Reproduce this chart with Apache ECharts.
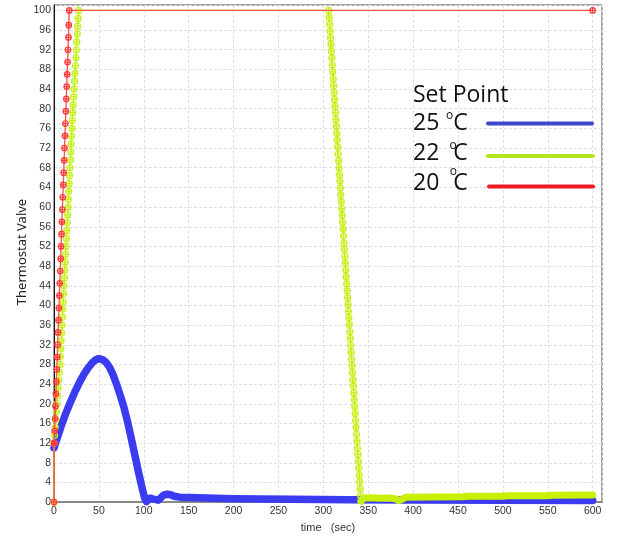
<!DOCTYPE html>
<html>
<head>
<meta charset="utf-8">
<script src="https://cdn.jsdelivr.net/npm/echarts@6/dist/echarts.min.js"></script>
<style>html,body{margin:0;padding:0;background:#fff;}#c{width:624px;height:538px;}</style>
</head>
<body>
<div id="c"></div>
<script>
// ---- data (time in sec, valve value) ----
const xTicks = [0, 50, 100, 150, 200, 250, 300, 350, 400, 450, 500, 550, 600];
const yTickStep = 4;

// Set point 25 °C
const blue25 = [[0,11],[2,12.2],[5,13.8],[9,16],[13,18],[18,20.2],[23,22.3],[28,24.2],[33,25.9],[38,27.3],[43,28.4],[47,29],[50,29.2],[54,29],[58,28.4],[62,27.4],[66,25.8],[70,23.8],[74,21.6],[78,19.2],[82,16.3],[86,13],[90,9.6],[94,6.2],[98,3],[101,0.8],[103,0.1],[105,0.2],[107,0.8],[109,1.0],[111,0.6],[113,0.2],[116,0.4],[119,0.9],[122,1.4],[126,1.6],[130,1.5],[134,1.2],[140,1.0],[160,0.9],[162,0.8],[199,0.7],[201,0.5],[330,0.5],[400,0.45],[500,0.4],[600,0.35]];

// Set point 22 °C
const yellow22Rise = [[0,0],[0,12],[0.67,13.6],[1.33,15.2],[2,16.8],[2.67,18.4],[3.33,20],[4,21.6],[4.67,23.2],[5.33,24.8],[6,26.4],[6.67,28],[7.1,29.6],[7.6,31.2],[8,32.8],[8.4,34.4],[8.9,36],[9.3,37.6],[9.8,39.2],[10.2,40.8],[10.7,42.4],[11.1,44],[11.6,45.6],[12,47.2],[12.4,48.8],[12.9,50.4],[13.3,52],[13.8,53.6],[14.2,55.2],[14.7,56.8],[15.1,58.4],[15.6,60],[16,61.6],[16.4,63.2],[16.9,64.8],[17.3,66.4],[17.8,68],[18.2,69.6],[18.7,71.2],[19.1,72.8],[19.6,74.4],[20,76],[20.4,77.6],[20.9,79.2],[21.4,80.8],[21.9,82.4],[22.4,84],[22.9,85.6],[23.4,87.2],[23.9,88.8],[24.4,90.4],[24.9,92],[25.4,93.6],[25.9,95.2],[26.4,96.8],[26.9,98.4],[27.4,100]];
const yellow22Fall = [[306,100],[306.5,98.6],[307,97.2],[307.5,95.8],[308,94.4],[308.5,93.1],[309,91.7],[309.5,90.3],[310,88.9],[310.5,87.5],[311,86.1],[311.5,84.7],[312,83.3],[312.5,81.9],[313,80.5],[313.5,79.2],[314,77.8],[314.5,76.4],[315,75],[315.5,73.6],[316,72.2],[316.5,70.8],[317,69.4],[317.5,68],[318,66.6],[318.5,65.3],[319,63.9],[319.5,62.5],[320,61.1],[320.5,59.7],[321,58.3],[321.5,56.9],[322,55.5],[322.5,54.1],[323,52.7],[323.5,51.4],[324,50],[324.5,48.6],[325,47.2],[325.5,45.8],[326,44.4],[326.5,43],[327,41.6],[327.5,40.2],[328,38.8],[328.5,37.5],[329,36.1],[329.5,34.7],[330,33.3],[330.5,31.9],[331,30.5],[331.5,29.1],[332,27.7],[332.5,26.3],[333,24.9],[333.5,23.6],[334,22.2],[334.5,20.8],[335,19.4],[335.5,18],[336,16.6],[336.5,15.2],[337,13.8],[337.5,12.4],[338,11],[338.5,9.7],[339,8.3],[339.5,6.9],[340,5.5],[340.5,4.1],[341,2.7],[341.5,1.3],[342,0.2]];
const yellow22Tail = [[342,0.2],[344,0.8],[352,0.9],[362,0.8],[372,0.85],[380,0.7],[384,0.3],[388,0.6],[392,1.0],[420,1.05],[455,1.1],[462,1.2],[500,1.2],[506,1.3],[548,1.3],[556,1.4],[600,1.45]];

// Set point 20 °C
const red20Rise = [[0,0],[0,12],[0.2,12],[0.7,14.5],[1.2,17],[1.6,19.5],[2.1,22],[2.6,24.5],[3.1,27],[3.6,29.5],[4,32],[4.5,34.5],[5,37],[5.5,39.5],[6,42],[6.4,44.5],[6.9,47],[7.4,49.5],[7.9,52],[8.4,54.5],[8.8,57],[9.3,59.5],[9.8,62],[10.3,64.5],[10.8,67],[11.3,69.5],[11.7,72],[12.2,74.5],[12.7,77],[13.2,79.5],[13.7,82],[14.1,84.5],[14.6,87],[15.1,89.5],[15.6,92],[16.1,94.5],[16.5,97],[17,100]];
const red20End = [[600,100]];

const legendRows = [
  { label: '25', color: '#3f48cc' },
  { label: '22', color: '#b5e61d' },
  { label: '20', color: '#ed1c24' }
];

// ---- chart ----
const chart = echarts.init(document.getElementById('c'), null, { renderer: 'canvas' });

const blueC = '#3b3bf2';
const yelC = '#c8f000';
const redC = '#ff3a3a';
const crossCircle = 'path://M0,5A5,5 0 1,1 10,5A5,5 0 1,1 0,5ZM5,0L5,10M0,5L10,5';

const graphic = [
  { type: 'text', z: 100, style: { text: 'Thermostat Valve', x: 0, y: 0, font: '13px "Noto Sans"', fill: '#222', align: 'center', verticalAlign: 'middle' }, x: 22, y: 252, rotation: Math.PI / 2 },
  { type: 'text', z: 100, style: { text: 'Set Point', x: 413, y: 95, font: '23px "Open Sans"', fill: '#111', align: 'left', verticalAlign: 'middle' } }
];
const rowY = [123.5, 153.3, 183];
const degY = [115.5, 145.2, 171.3];
const degX = [449.5, 453, 453.3];
const lineSeg = [[488, 592, 123.5], [488, 593, 156], [489, 593, 186.5]];
legendRows.forEach((r, i) => {
  graphic.push({ type: 'text', z: 100, style: { text: r.label, x: 413, y: rowY[i], font: '23px "Open Sans"', fill: '#111', align: 'left', verticalAlign: 'middle' } });
  graphic.push({ type: 'text', z: 100, style: { text: 'o', x: degX[i], y: degY[i], font: '12px "Open Sans"', fill: '#111', align: 'center', verticalAlign: 'middle' } });
  graphic.push({ type: 'text', z: 100, style: { text: 'C', x: 453.3, y: rowY[i], font: '23px "Open Sans"', fill: '#111', align: 'left', verticalAlign: 'middle' } });
  graphic.push({ type: 'line', z: 100, shape: { x1: lineSeg[i][0], y1: lineSeg[i][2], x2: lineSeg[i][1], y2: lineSeg[i][2] }, style: { stroke: r.color, lineWidth: 4, lineCap: 'round' } });
});

const markerStyle = (c) => ({ color: 'rgba(255,255,255,0)', borderColor: c, borderWidth: 1.2 });

chart.setOption({
  animation: false,
  backgroundColor: '#fff',
  grid: { left: 54, right: 22, top: 5, bottom: 28, show: true, borderColor: '#444', borderWidth: 1, backgroundColor: 'transparent' },
  xAxis: {
    type: 'value', min: 0, max: 610.4, interval: 50,
    name: 'time   (sec)', nameLocation: 'middle', nameGap: 15,
    nameTextStyle: { fontFamily: 'Liberation Sans', fontSize: 11, color: '#333' },
    axisLine: { show: true, lineStyle: { color: '#888', width: 2 } },
    axisTick: { show: false },
    axisLabel: { showMaxLabel: false, margin: 4, fontFamily: 'Liberation Sans', fontSize: 10.5, color: '#333',
      formatter: v => (xTicks.indexOf(v) >= 0 ? String(v) : '') },
    splitLine: { show: true, lineStyle: { color: '#e0e0e0', type: [3, 2], width: 1 } }
  },
  yAxis: {
    type: 'value', min: 0, max: 101.1, interval: yTickStep,
    axisLine: { show: true, lineStyle: { color: '#111', width: 1 } },
    axisTick: { show: false },
    axisLabel: { showMaxLabel: false, margin: 3, fontFamily: 'Liberation Sans', fontSize: 10.5, color: '#333',
      formatter: v => (v % yTickStep === 0 ? String(v) : '') },
    splitLine: { show: true, lineStyle: { color: '#e0e0e0', type: [3, 2], width: 1 } }
  },
  graphic: graphic,
  series: [
    { type: 'line', name: '25', data: blue25, showSymbol: false, symbol: 'none', z: 2,
      lineStyle: { color: blueC, width: 7.5, cap: 'round', join: 'round' } },
    { type: 'line', name: '22tail', data: yellow22Tail, showSymbol: false, symbol: 'none', z: 3,
      lineStyle: { color: yelC, width: 7, cap: 'round', join: 'round' } },
    { type: 'line', name: '22', data: yellow22Rise.concat(yellow22Fall), symbol: crossCircle, symbolSize: 6, showAllSymbol: true, z: 4,
      itemStyle: markerStyle('#c6f01a'), lineStyle: { color: yelC, width: 1.3 } },
    { type: 'line', name: '20', data: red20Rise.concat(red20End), symbol: crossCircle, symbolSize: 5.5, showAllSymbol: true, z: 5,
      itemStyle: markerStyle(redC), lineStyle: { color: '#ff5050', width: 1.3 } }
  ]
});
</script>
</body>
</html>
